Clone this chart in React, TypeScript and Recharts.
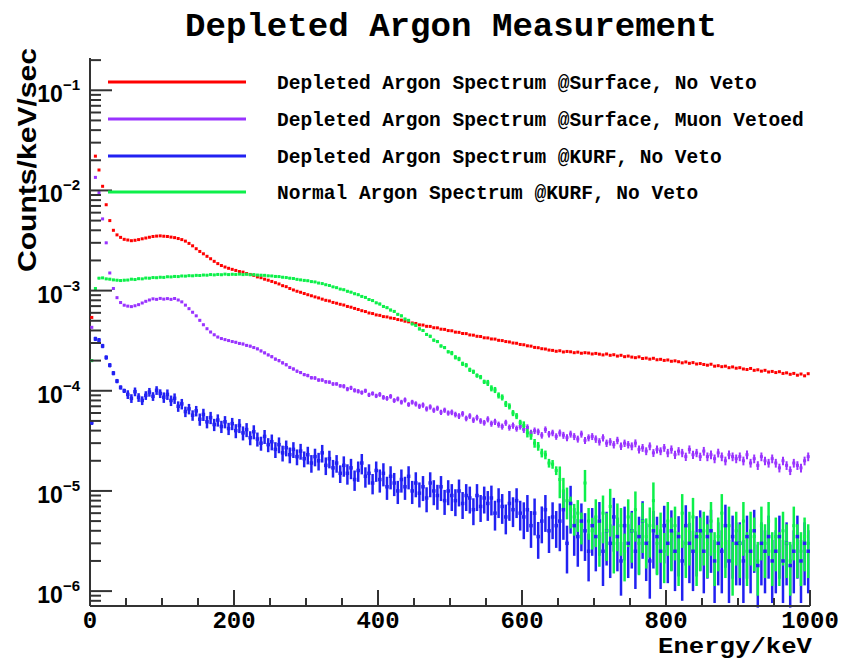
import React from 'react';
import { ScatterChart, Scatter, XAxis, YAxis, ErrorBar } from 'recharts';

// values are in units of 1e-6 counts/keV/sec, one per 5 keV bin (0..1000 keV)
const UNIT = 1e-6;
const BIN_WIDTH = 5;

const seriesNames = [
  'Depleted Argon Spectrum @Surface, No Veto',
  'Depleted Argon Spectrum @Surface, Muon Vetoed',
  'Depleted Argon Spectrum @KURF, No Veto',
  'Normal Argon Spectrum @KURF, No Veto',
];
const seriesColors = ['#ff0000', '#9933ff', '#2121f2', '#0df04a'];

const redVals = [
  540, 22000, 16000, 11000, 7200, 5000, 4000, 3600, 3400, 3250,
  3200, 3150, 3180, 3230, 3290, 3350, 3410, 3470, 3500, 3520,
  3490, 3470, 3420, 3380, 3310, 3230, 3120, 2960, 2800, 2620,
  2460, 2330, 2200, 2080, 1960, 1860, 1780, 1720, 1670, 1630,
  1590, 1550, 1530, 1480, 1450, 1420, 1370, 1345, 1300, 1270,
  1235, 1200, 1165, 1120, 1095, 1050, 1015, 985, 962, 935,
  910, 888, 865, 845, 822, 800, 788, 762, 748, 730,
  718, 695, 683, 664, 648, 630, 618, 598, 590, 572,
  566, 550, 546, 533, 527, 514, 507, 495, 488, 475,
  470, 455, 453, 440, 439, 426, 425, 412, 410, 399,
  397, 385, 383, 373, 372, 361, 359, 350, 348, 338,
  337, 329, 328, 319, 317, 310, 307, 300, 298, 290,
  288, 281, 279, 271, 269, 263, 261, 255, 253, 248,
  251, 244, 247, 245, 240, 243, 237, 240, 238, 233,
  236, 232, 228, 233, 226, 229, 222, 226, 219, 222,
  217, 214, 218, 210, 212, 207, 211, 204, 206, 201,
  203, 197, 199, 195, 190, 194, 188, 191, 185, 187,
  183, 180, 184, 176, 178, 174, 176, 170, 173, 168,
  170, 165, 163, 167, 160, 162, 157, 160, 154, 156,
  152, 155, 149, 151, 146, 149, 143, 147, 141, 148,
];

const purpleVals = [
  430, 13500, 9500, 5200, 3000, 1500, 1050, 850, 760, 715,
  700, 692, 706, 724, 752, 782, 806, 828, 818, 836,
  822, 832, 818, 834, 806, 772, 716, 660, 608, 560,
  505, 456, 416, 386, 362, 344, 332, 324, 317, 310,
  305, 297, 293, 284, 279, 270, 262, 250, 239, 228,
  219, 207, 200, 190, 182, 171, 165, 157, 152, 145,
  142, 135, 134, 128, 128, 123, 122, 117, 117, 112,
  111, 104, 107, 101, 99, 96, 100, 91, 94, 89,
  92, 86, 84, 88, 80, 83, 77, 81, 73, 77,
  74, 70, 72, 66, 69, 64, 67, 61, 64, 60,
  61, 58, 56, 59, 53, 56, 51, 54, 50, 48,
  52, 47, 49, 46, 44, 48, 43, 45, 42, 44,
  41, 43, 38, 40, 39, 36, 41, 37, 38, 35,
  38, 36, 34, 37, 35, 33, 37, 32, 34, 35,
  33, 31, 34, 30, 31, 29, 32, 28, 30, 29,
  28, 30, 26, 27, 25, 28, 24, 26, 25, 27,
  24, 26, 23, 25, 24, 22, 26, 23, 24, 22,
  25, 22, 23, 21, 24, 22, 20, 23, 22, 21,
  22, 20, 23, 19, 21, 18, 22, 20, 19, 21,
  19, 17, 20, 18, 16, 19, 18, 17, 20, 22,
];

const blueVals = [
  48, 330, 320, 280, 215, 180, 150, 125, 108, 100,
  92, 84, 98, 86, 80, 90, 97, 88, 101, 94,
  86, 92, 80, 84, 70, 74, 62, 66, 57, 63,
  52, 58, 49, 54, 46, 51, 44, 49, 42, 47,
  40, 45, 38, 41, 34, 39, 33, 30, 35, 29,
  31, 26, 29, 24, 27, 23, 26, 22, 25, 21,
  23, 19, 22, 20, 24, 18, 21, 17, 19, 15,
  18, 15, 17, 13, 16, 19, 14, 15, 12, 16,
  13, 15, 11, 14, 12, 10, 13, 11, 14, 10,
  12, 9.5, 11, 8.5, 12, 10, 9, 11, 8, 10,
  9, 8, 10, 7.5, 9, 8.5, 6.5, 9, 7, 8.5,
  7.5, 8.5, 6, 8, 7, 5.5, 7.5, 6.5, 8, 6,
  5.5, 6.5, 4.5, 6, 3.5, 5, 6.5, 4, 5.5, 4.5,
  5, 6.5, 3, 7.5, 4.5, 3.5, 5, 4, 2.5, 4.5,
  3.5, 5, 2.5, 4, 3, 5.5, 3.5, 2, 4.5, 3,
  4, 2.5, 3.5, 5, 3, 2, 4, 3.5, 2.5, 4.5,
  3, 4, 2.5, 3.5, 2, 4.5, 3, 2.5, 3.5, 4,
  2.5, 3.5, 4, 2, 3, 2.5, 4.5, 2, 3.5, 3,
  3, 2, 3.5, 2.5, 4, 1.8, 3, 2.5, 3.5, 2,
  2.5, 3.5, 2, 3, 1.8, 2.5, 3.5, 2, 3, 2.5,
];

const greenVals = [
  200, 1050, 1330, 1340, 1310, 1300, 1280, 1270, 1260, 1270,
  1275, 1300, 1290, 1315, 1310, 1335, 1330, 1350, 1345, 1360,
  1355, 1375, 1370, 1385, 1380, 1400, 1395, 1410, 1405, 1420,
  1415, 1430, 1425, 1445, 1435, 1450, 1440, 1460, 1445, 1455,
  1450, 1460, 1445, 1455, 1440, 1445, 1430, 1425, 1420, 1405,
  1400, 1385, 1380, 1360, 1350, 1330, 1320, 1295, 1280, 1265,
  1255, 1230, 1220, 1190, 1175, 1145, 1125, 1090, 1070, 1035,
  1020, 985, 965, 930, 910, 875, 855, 815, 795, 755,
  735, 695, 675, 640, 620, 580, 560, 520, 505, 465,
  450, 415, 400, 365, 350, 320, 310, 280, 270, 245,
  238, 216, 208, 186, 180, 162, 155, 142, 137, 123,
  120, 106, 102, 90, 86, 74, 70, 60, 56, 48,
  45, 38, 36, 30, 28, 24, 23, 19, 18.5, 16,
  13, 10, 8, 6.5, 5.5, 6, 4.5, 12, 5, 4,
  5.5, 3.5, 6, 4, 7, 3, 5, 4.5, 2.5, 5.5,
  4, 6.5, 3, 5, 3.5, 4.5, 8, 3, 4, 2.5,
  5, 3.5, 4.5, 2.5, 6, 3, 4, 5.5, 2.5, 3.5,
  4, 3, 5, 2.5, 3.5, 6, 3, 4.5, 2, 4,
  3, 5, 2.5, 4, 3.5, 2, 4.5, 3, 5, 2.5,
  3.5, 2.5, 4, 3, 2, 4.5, 3, 2.5, 3.5, 3,
];

// relative statistical error, one value per 50 keV block
const purpleRelErr = [0.02, 0.02, 0.02, 0.025, 0.03, 0.035, 0.04, 0.05, 0.055, 0.06, 0.065, 0.07, 0.075, 0.08, 0.085, 0.09, 0.095, 0.1, 0.1, 0.1];
const blueRelErr = [0.05, 0.1, 0.12, 0.14, 0.16, 0.18, 0.2, 0.23, 0.26, 0.28, 0.3, 0.33, 0.4, 0.5, 0.55, 0.58, 0.6, 0.62, 0.62, 0.62];
const greenRelErr = [0.02, 0.02, 0.02, 0.02, 0.02, 0.02, 0.02, 0.025, 0.03, 0.035, 0.05, 0.07, 0.1, 0.35, 0.5, 0.52, 0.55, 0.55, 0.55, 0.55];

const xTicks = [0, 50, 100, 150, 200, 250, 300, 350, 400, 450, 500, 550, 600, 650, 700, 750, 800, 850, 900, 950, 1000];
const xLabelStep = 200;
const decadeExps = [-7, -6, -5, -4, -3, -2, -1];
const mantissas = [1, 2, 3, 4, 5, 6, 7, 8, 9];
const Y_MIN = 7.1e-7;
const Y_MAX = 0.21;
const yTicks = decadeExps
  .flatMap((e) => mantissas.map((m) => m * Math.pow(10, e)))
  .filter((v) => v >= Y_MIN && v <= Y_MAX);

const build = (vals: number[], rel?: number[]) =>
  vals.map((v, i) => {
    const y = v * UNIT;
    const r = rel ? rel[Math.floor(i / 10)] : 0;
    return { x: BIN_WIDTH * (i + 0.5), y, err: [y * r, y * r] };
  });

const redData = build(redVals);
const purpleData = build(purpleVals, purpleRelErr);
const blueData = build(blueVals, blueRelErr);
const greenData = build(greenVals, greenRelErr);

const AXIS = '#333333';
const MONO = '"Liberation Mono", "DejaVu Sans Mono", monospace';
const SANS = '"Liberation Sans", Arial, sans-serif';

const marker = (size: number) => (props: any) => {
  const { cx, cy, fill } = props;
  if (!Number.isFinite(cx) || !Number.isFinite(cy)) return <g />;
  return <rect x={cx - size / 2} y={cy - size / 2} width={size} height={size} fill={fill} />;
};

const YTick = (props: any) => {
  const { x, y, payload } = props;
  const v = payload.value as number;
  const lg = Math.log10(v);
  const major = Math.abs(lg - Math.round(lg)) < 1e-6;
  return (
    <g>
      <line x1={x} y1={y} x2={x + (major ? 22 : 11)} y2={y} stroke={AXIS} strokeWidth={2} />
      {major && (
        <text x={x - 10} y={y + 12} textAnchor="end" fontFamily={SANS} fontWeight="bold" fontSize={23} fill="#000">
          <tspan>10</tspan>
          <tspan dy={-12} fontSize={15}>{'\u2212' + String(-Math.round(lg))}</tspan>
        </text>
      )}
    </g>
  );
};

const XTick = (props: any) => {
  const { x, y, payload } = props;
  const v = payload.value as number;
  const major = v % xLabelStep === 0;
  return (
    <g>
      <line x1={x} y1={y} x2={x} y2={y - (major ? 16 : 8)} stroke={AXIS} strokeWidth={2} />
      {major && (
        <text x={x} y={y + 22} textAnchor="middle" fontFamily={MONO} fontWeight="bold" fontSize={24} fill="#000">
          {v}
        </text>
      )}
    </g>
  );
};

const legendRows = [82, 119, 156, 192];

export default function App() {
  return (
    <div style={{ position: 'absolute', left: 0, top: 0, width: 842, height: 660, background: '#fff' }}>
      <ScatterChart width={842} height={660} margin={{ top: 58, right: 32, bottom: 10, left: 10 }}>
        <XAxis
          xAxisId="b"
          type="number"
          dataKey="x"
          domain={[0, 1000]}
          allowDataOverflow
          ticks={xTicks}
          interval={0}
          tick={XTick}
          tickLine={false}
          tickSize={0}
          tickMargin={0}
          height={44}
          axisLine={{ stroke: AXIS, strokeWidth: 2 }}
        />
        <XAxis
          xAxisId="t"
          orientation="top"
          type="number"
          domain={[0, 1000]}
          allowDataOverflow
          height={0}
          tick={false}
          tickLine={false}
          axisLine={{ stroke: AXIS, strokeWidth: 2 }}
        />
        <YAxis
          yAxisId="l"
          type="number"
          dataKey="y"
          scale="log"
          domain={[Y_MIN, Y_MAX]}
          allowDataOverflow
          ticks={yTicks}
          interval={0}
          tick={YTick}
          tickLine={false}
          tickSize={0}
          tickMargin={0}
          width={80}
          axisLine={{ stroke: AXIS, strokeWidth: 2 }}
        />
        <YAxis
          yAxisId="r"
          orientation="right"
          type="number"
          scale="log"
          domain={[Y_MIN, Y_MAX]}
          allowDataOverflow
          width={0}
          tick={false}
          tickLine={false}
          axisLine={{ stroke: AXIS, strokeWidth: 2 }}
        />
        <Scatter xAxisId="b" yAxisId="l" name={seriesNames[0]} data={redData} fill={seriesColors[0]} shape={marker(3)} isAnimationActive={false} />
        <Scatter xAxisId="b" yAxisId="l" name={seriesNames[1]} data={purpleData} fill={seriesColors[1]} shape={marker(3)} isAnimationActive={false}>
          <ErrorBar dataKey="err" direction="y" width={0} stroke={seriesColors[1]} strokeWidth={2} />
        </Scatter>
        <Scatter xAxisId="b" yAxisId="l" name={seriesNames[2]} data={blueData} fill={seriesColors[2]} shape={marker(3.5)} isAnimationActive={false}>
          <ErrorBar dataKey="err" direction="y" width={0} stroke={seriesColors[2]} strokeWidth={2.5} />
        </Scatter>
        <Scatter xAxisId="b" yAxisId="l" name={seriesNames[3]} data={greenData} fill={seriesColors[3]} shape={marker(3)} isAnimationActive={false}>
          <ErrorBar dataKey="err" direction="y" width={0} stroke={seriesColors[3]} strokeWidth={2.5} />
        </Scatter>
      </ScatterChart>
      <svg width={842} height={660} style={{ position: 'absolute', left: 0, top: 0, pointerEvents: 'none' }}>
        <text x={451} y={36} textAnchor="middle" fontFamily={MONO} fontWeight="bold" fontSize={34} textLength={532} lengthAdjust="spacingAndGlyphs" fill="#000">
          Depleted Argon Measurement
        </text>
        {seriesNames.map((name, i) => (
          <g key={name}>
            <line x1={108} y1={legendRows[i]} x2={246} y2={legendRows[i]} stroke={seriesColors[i]} strokeWidth={3} />
            <text x={277} y={legendRows[i] + 7} fontFamily={MONO} fontWeight="bold" fontSize={19.5} fill="#000">
              {name}
            </text>
          </g>
        ))}
        <text x={812} y={653} textAnchor="end" fontFamily={MONO} fontWeight="bold" fontSize={22} textLength={154} lengthAdjust="spacingAndGlyphs" fill="#000">
          Energy/keV
        </text>
        <text transform="translate(36,160) rotate(-90)" textAnchor="middle" fontFamily={SANS} fontWeight="bold" fontSize={25} textLength={224} lengthAdjust="spacingAndGlyphs" fill="#000">
          Counts/keV/sec
        </text>
      </svg>
    </div>
  );
}
